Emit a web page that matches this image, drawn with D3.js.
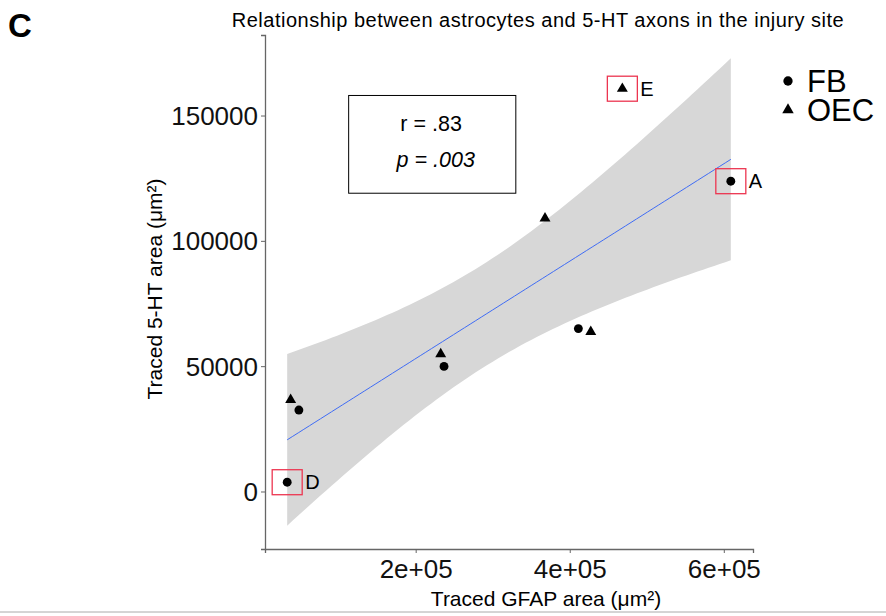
<!DOCTYPE html>
<html>
<head>
<meta charset="utf-8">
<script src="https://cdn.jsdelivr.net/npm/d3@7"></script>
<style>
  body { margin: 0; background: #fff; }
  svg text { font-family: "Liberation Sans", Arial, sans-serif; }
</style>
</head>
<body>
<svg id="chart" width="886" height="616"></svg>
<script>
// FB group (circles)
const fbX = [48400, 236800, 33200, 411200, 609100];
const fbY = [32500, 49900, 3700, 65000, 123800];
const fbTag = ["", "", "D", "", "A"];
// OEC group (triangles)
const oecX = [37700, 232500, 427300, 468300, 367900];
const oecY = [36600, 54800, 63700, 160700, 109000];
const oecTag = ["", "", "", "E", ""];

const xTicks = [200000, 400000, 600000];
const xTickLabels = ["2e+05", "4e+05", "6e+05"];
const yTicks = [0, 50000, 100000, 150000];
const legendItems = ["FB", "OEC"];

const margin = {left: 265, right: 753, top: 35, bottom: 549};
const svg = d3.select("#chart");

let pts = [];
fbX.forEach((x, i) => pts.push({x: x, y: fbY[i], g: "FB", tag: fbTag[i]}));
oecX.forEach((x, i) => pts.push({x: x, y: oecY[i], g: "OEC", tag: oecTag[i]}));

// linear fit + 95% confidence band (same as geom_smooth(method = "lm"))
const n = pts.length;
const mx = d3.mean(pts, d => d.x), my = d3.mean(pts, d => d.y);
const sxx = d3.sum(pts, d => (d.x - mx) ** 2);
const sxy = d3.sum(pts, d => (d.x - mx) * (d.y - my));
const slope = sxy / sxx, icpt = my - slope * mx;
const s = Math.sqrt(d3.sum(pts, d => (d.y - icpt - slope * d.x) ** 2) / (n - 2));
const tcrit = 2.306; // t(0.975, df = 8)
const [x0, x1] = d3.extent(pts, d => d.x);
const band = d3.range(81).map(i => {
    const x = x0 + (x1 - x0) * i / 80;
    const fit = icpt + slope * x;
    const se = s * Math.sqrt(1 / n + (x - mx) ** 2 / sxx);
    return {x: x, fit: fit, lo: fit - tcrit * se, hi: fit + tcrit * se};
});

const expand = (lo, hi) => [lo - (hi - lo) * 0.05, hi + (hi - lo) * 0.05];
const xs = d3.scaleLinear()
    .domain(expand(x0, x1))
    .range([margin.left, margin.right]);
const yAll = pts.map(d => d.y).concat(band.map(d => d.lo), band.map(d => d.hi));
const ys = d3.scaleLinear()
    .domain(expand(d3.min(yAll), d3.max(yAll)))
    .range([margin.bottom, margin.top]);

// ribbon
svg.append("path")
    .datum(band)
    .attr("fill", "#d7d7d7")
    .attr("d", d3.area().x(d => xs(d.x)).y0(d => ys(d.lo)).y1(d => ys(d.hi)));

svg.append("path")
    .datum(band)
    .attr("fill", "none")
    .attr("stroke", "#3f6cf5")
    .attr("stroke-width", 1)
    .attr("d", d3.line().x(d => xs(d.x)).y(d => ys(d.fit)));

// axes
const xAxis = svg.append("g")
    .attr("transform", `translate(0,${margin.bottom})`)
    .call(d3.axisBottom(xs).tickValues(xTicks).tickFormat((d, i) => xTickLabels[i]).tickSizeOuter(0).tickSize(4).tickPadding(6));
const yAxis = svg.append("g")
    .attr("transform", `translate(${margin.left},0)`)
    .call(d3.axisLeft(ys).tickValues(yTicks).tickFormat(d3.format("d")).tickSizeOuter(0).tickSize(4).tickPadding(3));
for (const ax of [xAxis, yAxis]) {
    ax.select(".domain").attr("stroke", "#666").attr("stroke-width", 1.3);
    ax.selectAll(".tick line").attr("stroke", "#666");
    ax.selectAll(".tick text")
        .attr("fill", "#111")
        .style("font-size", "26px")
        .style("font-family", "'Liberation Sans', Arial, sans-serif");
}
yAxis.selectAll(".tick text").attr("dy", "0.35em");
xAxis.selectAll(".tick text").attr("dy", "0.72em");

// stats annotation
svg.append("rect")
    .attr("x", xs(113000)).attr("y", ys(158000))
    .attr("width", xs(330000) - xs(113000))
    .attr("height", ys(119000) - ys(158000))
    .attr("fill", "#fff").attr("stroke", "#000").attr("stroke-width", 1);
svg.append("text")
    .attr("x", xs(220000)).attr("y", ys(144000))
    .attr("text-anchor", "middle")
    .style("font-size", "21.5px")
    .text("r = .83");
svg.append("text")
    .attr("x", xs(226000)).attr("y", ys(129400))
    .attr("text-anchor", "middle")
    .style("font-size", "21.5px")
    .style("font-style", "italic")
    .text("p = .003");

// highlighted points
const tagged = pts.filter(d => d.tag);
svg.selectAll(".hl")
    .data(tagged)
    .join("rect")
    .attr("x", d => xs(d.x) - 15)
    .attr("y", d => ys(d.y) - 12.5)
    .attr("width", 30).attr("height", 25)
    .attr("fill", "none")
    .attr("stroke", "#ec3550")
    .attr("stroke-width", 1.3);
svg.selectAll(".tag")
    .data(tagged)
    .join("text")
    .attr("x", d => xs(d.x) + 18)
    .attr("y", d => ys(d.y))
    .attr("dy", "0.36em")
    .style("font-size", "20px")
    .text(d => d.tag);

// points
const shape = g => g === "FB" ? d3.symbolCircle : d3.symbolTriangle;
const size = g => g === "FB" ? 62 : 52;
svg.selectAll(".pt")
    .data(pts)
    .join("path")
    .attr("transform", d => `translate(${xs(d.x)},${ys(d.y)})`)
    .attr("d", d => d3.symbol(shape(d.g), size(d.g))())
    .attr("fill", "#000");

// legend
const leg = svg.append("g").attr("transform", "translate(788,81)");
legendItems.forEach((g, i) => {
    leg.append("path")
        .attr("transform", `translate(0,${i * 29})`)
        .attr("d", d3.symbol(shape(g), size(g) * 1.1)())
        .attr("fill", "#000");
    leg.append("text")
        .attr("x", 19).attr("y", i * 29)
        .attr("dy", "0.36em")
        .style("font-size", "31px")
        .text(g);
});

// titles
svg.append("text")
    .attr("x", 538).attr("y", 27)
    .attr("text-anchor", "middle")
    .style("font-size", "20px")
    .style("letter-spacing", "0.5px")
    .text("Relationship between astrocytes and 5-HT axons in the injury site");
svg.append("text")
    .attr("x", 8).attr("y", 37)
    .style("font-size", "33px")
    .style("font-weight", "bold")
    .text("C");
svg.append("text")
    .attr("x", 546).attr("y", 606)
    .attr("text-anchor", "middle")
    .style("font-size", "21px")
    .text("Traced GFAP area (μm²)");
svg.append("text")
    .attr("transform", "translate(162,289) rotate(-90)")
    .attr("text-anchor", "middle")
    .style("font-size", "21px")
    .text("Traced 5-HT area (μm²)");

svg.append("line")
    .attr("x1", 0).attr("x2", 886).attr("y1", 612).attr("y2", 612)
    .attr("stroke", "#aaa").attr("stroke-width", 1);
</script>
</body>
</html>
